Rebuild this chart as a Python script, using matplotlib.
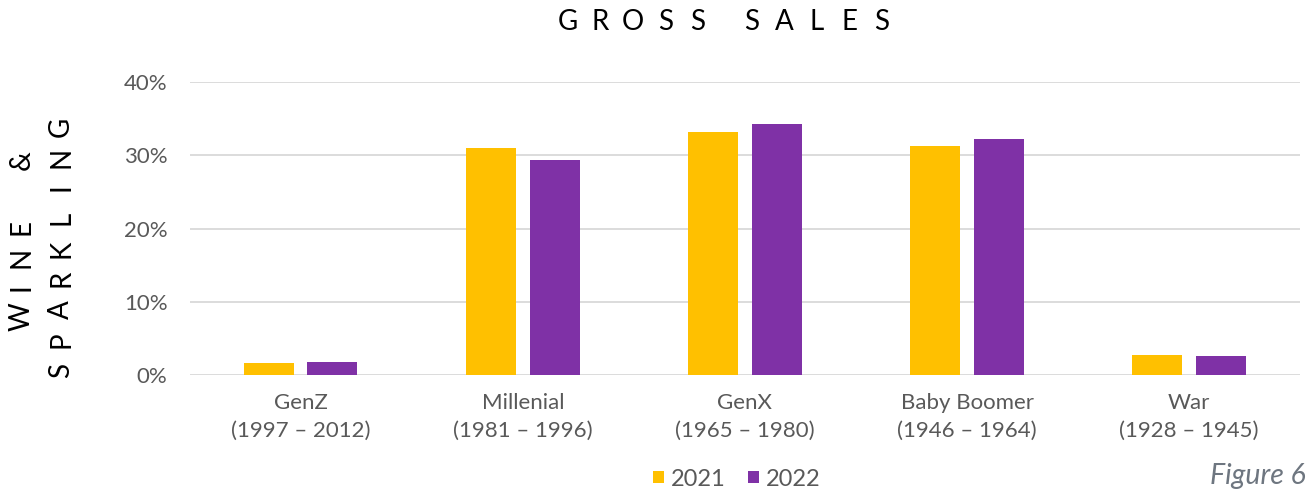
import matplotlib
matplotlib.use("Agg")
import matplotlib.pyplot as plt
import numpy as np

categories = ["GenZ\n(1997 – 2012)", "Millenial\n(1981 – 1996)", "GenX\n(1965 – 1980)",
              "Baby Boomer\n(1946 – 1964)", "War\n(1928 – 1945)"]
series_names = ["2021", "2022"]
sales_2021 = [1.7, 31.0, 33.2, 31.3, 2.7]
sales_2022 = [1.8, 29.3, 34.2, 32.2, 2.6]
yticks = [0, 10, 20, 30, 40]

YELLOW = "#FFC000"
PURPLE = "#7F31A6"
GRAY = "#595959"
W, H = 1308, 493

plt.rcParams["font.family"] = ["Lato", "DejaVu Sans"]


def spaced_text(fig, words, start, fixed, pitch, gap, vertical=False, **kw):
    """Draw letters one by one with wide tracking (pixel coords, y from top)."""
    step = -1 if vertical else 1
    pos = start
    for wi, word in enumerate(words):
        if wi:
            pos += step * (gap - pitch)
        for ch in word:
            if vertical:
                fig.text(fixed / W, 1 - pos / H, ch, rotation=90, ha="center", va="center", **kw)
            else:
                fig.text(pos / W, 1 - fixed / H, ch, ha="center", va="center", **kw)
            pos += step * pitch


fig = plt.figure(figsize=(W / 100, H / 100), dpi=100)
ax = fig.add_axes([0.145, 0.239, 0.849, 0.595])

x = np.arange(len(categories))
w = 0.225
off = 0.143
ax.bar(x - off, sales_2021, w, color=YELLOW, label=series_names[0], zorder=3)
ax.bar(x + off, sales_2022, w, color=PURPLE, label=series_names[1], zorder=3)

ax.set_xlim(-0.5, len(categories) - 0.5)
ax.set_ylim(0, 40)
ax.set_yticks(yticks)
ax.set_yticklabels([f"{v}%" for v in yticks], fontsize=16, color=GRAY)
ax.set_xticks(x)
ax.set_xticklabels(categories, fontsize=16, color=GRAY, linespacing=1.45)
ax.tick_params(length=0)
ax.tick_params(axis="y", pad=16)
ax.tick_params(axis="x", pad=13)
ax.grid(axis="y", color="#D9D9D9", linewidth=1.3, zorder=0)
for s in ax.spines.values():
    s.set_visible(False)

# tracked-out title and y label
spaced_text(fig, ["GROSS", "SALES"], 568, 22, 32.5, 54, fontsize=20, color="black")
spaced_text(fig, ["WINE", "&"], 317, 22, 30, 67, vertical=True, fontsize=20, color="black")
spaced_text(fig, ["SPARKLING"], 370, 61, 30.4, 0, vertical=True, fontsize=20, color="black")

fig.legend(loc="center", bbox_to_anchor=(737 / W, 1 - 479 / H), ncol=2, frameon=False,
           fontsize=17, labelcolor=GRAY, handlelength=0.45, handleheight=0.45,
           handletextpad=0.3, columnspacing=0.95)
fig.text(1210 / W, 1 - 476 / H, "Figure 6", ha="left", va="center", fontsize=20.5,
         color="#6E7680", style="italic")

fig.savefig("out.png", dpi=100)
